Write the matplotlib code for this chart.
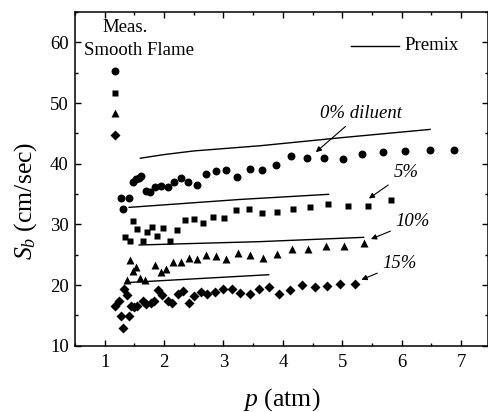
import matplotlib
matplotlib.use('Agg')
import matplotlib.pyplot as plt
from matplotlib.ticker import MultipleLocator

plt.rcParams['font.family'] = ['Liberation Serif', 'DejaVu Serif']
plt.rcParams['mathtext.fontset'] = 'custom'
plt.rcParams['mathtext.rm'] = 'Liberation Serif'
plt.rcParams['mathtext.it'] = 'Liberation Serif:italic'

# measured flame speeds, smooth flame
p_0 = [1.28, 1.31, 1.41, 1.47, 1.52, 1.57, 1.61, 1.69, 1.76, 1.85, 1.95, 2.06, 2.17,
       2.28, 2.41, 2.55, 2.71, 2.88, 3.04, 3.23, 3.44, 3.65, 3.89, 4.14, 4.41, 4.70,
       5.01, 5.34, 5.69, 6.06, 6.47, 6.88]
s_0 = [34.4, 32.5, 34.4, 36.9, 37.4, 37.7, 38.0, 35.5, 35.3, 36.1, 36.4, 36.2, 36.9,
       37.7, 37.0, 36.5, 38.3, 38.8, 39.0, 37.8, 39.1, 38.9, 39.8, 41.2, 41.0, 41.0,
       40.8, 41.6, 41.9, 42.1, 42.2, 42.2]

p_5 = [1.35, 1.42, 1.48, 1.55, 1.64, 1.71, 1.79, 1.88, 1.99, 2.10, 2.22, 2.35, 2.50,
       2.66, 2.82, 3.01, 3.21, 3.43, 3.65, 3.90, 4.17, 4.45, 4.76, 5.09, 5.44, 5.82]
s_5 = [27.9, 27.2, 30.5, 29.2, 27.3, 28.7, 29.6, 28.1, 29.4, 27.3, 29.1, 30.7, 30.9,
       30.3, 31.2, 31.1, 32.3, 32.6, 31.8, 32.0, 32.6, 32.9, 33.4, 33.0, 33.1, 34.0]

p_10 = [1.37, 1.42, 1.47, 1.53, 1.60, 1.68, 1.85, 1.95, 2.04, 2.15, 2.28, 2.42, 2.55,
        2.71, 2.88, 3.05, 3.24, 3.45, 3.67, 3.90, 4.15, 4.42, 4.72, 5.03, 5.37]
s_10 = [20.9, 24.1, 22.3, 22.9, 21.1, 20.8, 23.3, 22.1, 22.7, 23.8, 23.8, 24.4, 24.3,
        24.9, 24.8, 24.3, 25.2, 25.0, 24.5, 25.1, 26.0, 26.0, 26.4, 26.4, 27.0]

p_15 = [1.17, 1.24, 1.27, 1.30, 1.33, 1.38, 1.41, 1.44, 1.49, 1.55, 1.64, 1.70, 1.78,
        1.83, 1.90, 1.97, 2.06, 2.14, 2.23, 2.32, 2.42, 2.51, 2.62, 2.73, 2.86, 2.99,
        3.14, 3.28, 3.44, 3.59, 3.76, 3.93, 4.12, 4.32, 4.54, 4.75, 4.97, 5.22]
s_15 = [16.5, 17.3, 14.9, 13.0, 19.3, 18.4, 14.9, 16.5, 16.3, 16.5, 17.3, 16.9, 17.1,
        17.3, 19.2, 18.4, 17.4, 17.1, 18.6, 19.0, 17.0, 18.2, 18.9, 18.5, 18.8, 19.3,
        19.3, 18.7, 18.5, 19.3, 19.7, 18.5, 19.2, 20.0, 19.7, 19.8, 20.2, 20.1]

# premixed flame speeds
pm_p0 = [1.60, 2.0, 2.5, 3.61, 5.0, 6.48]
pm_s0 = [40.9, 41.5, 42.1, 42.95, 44.3, 45.65]
pm_p5 = [1.41, 3.27, 4.77]
pm_s5 = [32.8, 34.1, 34.95]
pm_p10 = [1.58, 3.61, 5.36]
pm_s10 = [26.6, 27.15, 27.86]
pm_p15 = [1.37, 3.76]
pm_s15 = [20.4, 21.7]

fig = plt.figure(figsize=(4.89, 4.12), dpi=100)
ax = fig.add_axes([0.1534, 0.1609, 0.844, 0.81])

ms_o, ms_s, ms_t, ms_d = 5.7, 5.0, 6.4, 5.3
ax.plot(p_0, s_0, 'o', color='black', ms=ms_o, mec='none')
ax.plot(p_5, s_5, 's', color='black', ms=ms_s, mec='none')
ax.plot(p_10, s_10, '^', color='black', ms=ms_t, mec='none')
ax.plot(p_15, s_15, 'D', color='black', ms=ms_d, mec='none')

for xx, yy in [(pm_p0, pm_s0), (pm_p5, pm_s5), (pm_p10, pm_s10), (pm_p15, pm_s15)]:
    ax.plot(xx, yy, '-', color='black', lw=1.0)

# legend drawn by hand
ax.text(1.34, 62.5, 'Meas.', fontsize=13.5, ha='center', va='center')
ax.text(1.58, 58.7, 'Smooth Flame', fontsize=13.5, ha='center', va='center')
ax.plot([1.17], [55.3], 'o', color='black', ms=ms_o, mec='none')
ax.plot([1.17], [51.7], 's', color='black', ms=ms_s, mec='none')
ax.plot([1.17], [48.3], '^', color='black', ms=ms_t, mec='none')
ax.plot([1.17], [44.7], 'D', color='black', ms=ms_d, mec='none')
ax.plot([5.14, 5.96], [59.4, 59.4], '-', color='black', lw=1.0)
ax.text(6.04, 59.4, 'Premix', fontsize=13.5, ha='left', va='center')

arrow = dict(arrowstyle='-|>', color='black', lw=0.8, mutation_scale=8)
ax.annotate('0% diluent', xy=(4.52, 41.6), xytext=(5.31, 48.3), fontsize=13.5,
            style='italic', ha='center', va='center', arrowprops=arrow)
ax.annotate('5%', xy=(5.41, 34.0), xytext=(6.07, 38.5), fontsize=13.5,
            style='italic', ha='center', va='center', arrowprops=arrow)
ax.annotate('10%', xy=(5.44, 27.4), xytext=(6.19, 30.4), fontsize=13.5,
            style='italic', ha='center', va='center', arrowprops=arrow)
ax.annotate('15%', xy=(5.28, 20.7), xytext=(5.97, 23.5), fontsize=13.5,
            style='italic', ha='center', va='center', arrowprops=arrow)

ax.set_xlim(0.5, 7.45)
ax.set_ylim(10, 65)
ax.xaxis.set_major_locator(MultipleLocator(1))
ax.xaxis.set_minor_locator(MultipleLocator(0.5))
ax.yaxis.set_major_locator(MultipleLocator(10))
ax.yaxis.set_minor_locator(MultipleLocator(5))
ax.tick_params(which='both', direction='in', top=True, right=True, labelsize=13.5, width=1.0)
ax.tick_params(which='major', length=4.5)
ax.tick_params(which='minor', length=2.5)
ax.tick_params(axis='x', pad=6)
ax.tick_params(axis='y', pad=4.5)
for sp in ax.spines.values():
    sp.set_linewidth(1.1)

ax.set_xlabel('$p$ (atm)', fontsize=18.5)
ax.set_ylabel('$S_b$ (cm/sec)', fontsize=18.5)
ax.xaxis.set_label_coords(0.5, -0.122)
ax.yaxis.set_label_coords(-0.088, 0.435)

fig.savefig('out.png', dpi=100)
